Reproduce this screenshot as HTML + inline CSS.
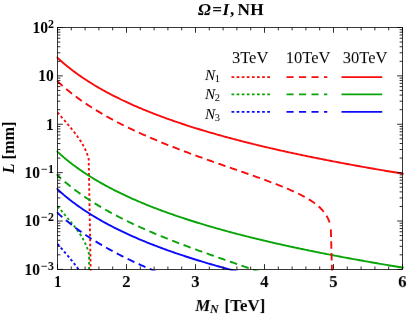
<!DOCTYPE html><html><head><meta charset="utf-8"><style>html,body{margin:0;padding:0;background:#fff}svg{display:block}.t{font-family:"Liberation Serif",serif;filter:grayscale(1)}.b{font-weight:bold}.i{font-style:italic}</style></head><body><svg width="407" height="315" viewBox="0 0 407 315">
<rect width="407" height="315" fill="#fff"/>
<defs><clipPath id="c"><rect x="56.50" y="27.50" width="347.20" height="243.10"/></clipPath></defs>
<g clip-path="url(#c)" fill="none" stroke-width="1.90">
<path d="M56.46 111.16 L56.81 111.57 L57.16 111.97 L57.50 112.37 L57.64 112.54 L57.78 112.70 L57.93 112.87 L58.07 113.03 L58.21 113.20 L58.35 113.36 L58.49 113.53 L58.63 113.69 L58.78 113.86 L58.92 114.02 L59.06 114.18 L59.20 114.35 L59.34 114.51 L59.48 114.68 L59.63 114.84 L59.77 115.01 L59.91 115.17 L60.05 115.33 L60.19 115.50 L60.34 115.66 L60.48 115.83 L60.62 115.99 L60.76 116.15 L60.90 116.32 L61.04 116.48 L61.19 116.65 L61.33 116.81 L61.47 116.97 L61.61 117.14 L61.75 117.30 L61.89 117.47 L62.04 117.63 L62.18 117.79 L62.32 117.96 L62.46 118.12 L62.60 118.29 L62.75 118.45 L62.89 118.61 L63.03 118.78 L63.17 118.94 L63.31 119.11 L63.45 119.27 L63.60 119.43 L63.74 119.60 L63.88 119.76 L64.02 119.93 L64.16 120.09 L64.30 120.25 L64.45 120.42 L64.59 120.58 L64.73 120.75 L64.87 120.91 L65.01 121.08 L65.16 121.24 L65.30 121.41 L65.44 121.57 L65.58 121.74 L65.72 121.90 L65.86 122.07 L66.01 122.23 L66.15 122.40 L66.29 122.56 L66.43 122.73 L66.57 122.90 L66.71 123.06 L66.86 123.23 L67.00 123.39 L67.14 123.56 L67.28 123.73 L67.42 123.89 L67.57 124.06 L67.71 124.23 L67.85 124.39 L67.99 124.56 L68.13 124.73 L68.27 124.90 L68.42 125.06 L68.56 125.23 L68.70 125.40 L68.84 125.57 L68.98 125.74 L69.12 125.91 L69.27 126.07 L69.41 126.24 L69.55 126.41 L69.69 126.58 L69.83 126.75 L69.98 126.92 L70.12 127.09 L70.26 127.26 L70.40 127.43 L70.54 127.61 L70.68 127.78 L70.83 127.95 L70.97 128.12 L71.11 128.29 L71.25 128.47 L71.39 128.64 L71.53 128.81 L71.68 128.99 L71.82 129.16 L71.96 129.33 L72.10 129.51 L72.24 129.68 L72.39 129.86 L72.53 130.03 L72.67 130.21 L72.81 130.39 L72.95 130.56 L73.09 130.74 L73.24 130.92 L73.38 131.10 L73.52 131.27 L73.66 131.45 L73.80 131.63 L73.94 131.81 L74.09 131.99 L74.23 132.17 L74.37 132.36 L74.51 132.54 L74.65 132.72 L74.80 132.90 L74.94 133.09 L75.08 133.27 L75.22 133.45 L75.36 133.64 L75.50 133.83 L75.65 134.01 L75.79 134.20 L75.93 134.39 L76.07 134.57 L76.21 134.76 L76.35 134.95 L76.50 135.14 L76.64 135.34 L76.78 135.53 L76.92 135.72 L77.06 135.91 L77.21 136.11 L77.35 136.30 L77.49 136.50 L77.63 136.69 L77.77 136.89 L77.91 137.09 L78.06 137.29 L78.20 137.49 L78.34 137.69 L78.48 137.89 L78.62 138.10 L78.76 138.30 L78.91 138.51 L79.05 138.71 L79.19 138.92 L79.33 139.13 L79.47 139.34 L79.62 139.55 L79.76 139.76 L79.90 139.97 L80.04 140.19 L80.18 140.41 L80.32 140.62 L80.47 140.84 L80.61 141.06 L80.75 141.28 L80.89 141.51 L81.03 141.73 L81.17 141.96 L81.32 142.19 L81.46 142.42 L81.60 142.65 L81.74 142.88 L81.88 143.12 L82.03 143.35 L82.17 143.59 L82.31 143.83 L82.45 144.08 L82.59 144.32 L82.73 144.57 L82.88 144.82 L83.02 145.07 L83.16 145.33 L83.30 145.59 L83.44 145.85 L83.58 146.11 L83.73 146.37 L83.87 146.64 L84.01 146.91 L84.15 147.19 L84.29 147.47 L84.44 147.75 L84.58 148.03 L84.72 148.32 L84.86 148.62 L85.00 148.91 L85.14 149.21 L85.29 149.52 L85.43 149.83 L85.57 150.14 L85.71 150.46 L85.85 150.79 L85.99 151.12 L86.14 151.45 L86.28 151.80 L86.42 152.14 L86.56 152.50 L86.70 152.86 L86.85 153.23 L86.99 153.61 L87.13 153.99 L87.27 154.39 L87.41 154.79 L87.55 155.20 L87.70 155.63 L87.84 156.06 L87.98 156.51 L88.12 156.97 L88.26 157.45 L88.40 157.94 L88.55 158.44 L88.69 158.96 L90.76 275.40" stroke="#f80c0c" stroke-dasharray="2.6 2.45" stroke-dashoffset="-1.59"/>
<path d="M56.46 80.35 L56.81 80.68 L57.16 81.01 L57.50 81.33 L58.74 82.48 L59.98 83.61 L61.23 84.72 L62.47 85.82 L63.71 86.89 L64.95 87.95 L66.20 88.99 L67.44 90.02 L68.68 91.03 L69.92 92.03 L71.16 93.01 L72.41 93.98 L73.65 94.93 L74.89 95.88 L76.13 96.80 L77.37 97.72 L78.62 98.62 L79.86 99.52 L81.10 100.40 L82.34 101.27 L83.59 102.12 L84.83 102.97 L86.07 103.81 L87.31 104.64 L88.55 105.46 L89.80 106.27 L91.04 107.07 L92.28 107.86 L93.52 108.64 L94.76 109.41 L96.01 110.18 L97.25 110.93 L98.49 111.68 L99.73 112.42 L100.98 113.16 L102.22 113.88 L103.46 114.60 L104.70 115.31 L105.94 116.02 L107.19 116.72 L108.43 117.41 L109.67 118.10 L110.91 118.77 L112.15 119.45 L113.40 120.11 L114.64 120.78 L115.88 121.43 L117.12 122.08 L118.37 122.73 L119.61 123.36 L120.85 124.00 L122.09 124.63 L123.33 125.25 L124.58 125.87 L125.82 126.48 L127.06 127.09 L128.30 127.69 L129.55 128.29 L130.79 128.89 L132.03 129.48 L133.27 130.07 L134.51 130.65 L135.76 131.23 L137.00 131.80 L138.24 132.37 L139.48 132.94 L140.72 133.50 L141.97 134.06 L143.21 134.61 L144.45 135.16 L145.69 135.71 L146.94 136.26 L148.18 136.80 L149.42 137.33 L150.66 137.87 L151.90 138.40 L153.15 138.93 L154.39 139.45 L155.63 139.97 L156.87 140.49 L158.11 141.01 L159.36 141.52 L160.60 142.03 L161.84 142.54 L163.08 143.05 L164.33 143.55 L165.57 144.05 L166.81 144.55 L168.05 145.04 L169.29 145.54 L170.54 146.03 L171.78 146.51 L173.02 147.00 L174.26 147.48 L175.50 147.97 L176.75 148.45 L177.99 148.92 L179.23 149.40 L180.47 149.87 L181.72 150.34 L182.96 150.81 L184.20 151.28 L185.44 151.75 L186.68 152.21 L187.93 152.67 L189.17 153.13 L190.41 153.59 L191.65 154.05 L192.90 154.51 L194.14 154.96 L195.38 155.42 L196.62 155.87 L197.86 156.32 L199.11 156.77 L200.35 157.22 L201.59 157.66 L202.83 158.11 L204.07 158.55 L205.32 159.00 L206.56 159.44 L207.80 159.88 L209.04 160.32 L210.29 160.76 L211.53 161.20 L212.77 161.64 L214.01 162.07 L215.25 162.51 L216.50 162.95 L217.74 163.38 L218.98 163.82 L220.22 164.25 L221.46 164.68 L222.71 165.12 L223.95 165.55 L225.19 165.98 L226.43 166.41 L227.68 166.84 L228.92 167.27 L230.16 167.71 L231.40 168.14 L232.64 168.57 L233.89 169.00 L235.13 169.43 L236.37 169.86 L237.61 170.29 L238.85 170.72 L240.10 171.15 L241.34 171.59 L242.58 172.02 L243.82 172.45 L245.07 172.89 L246.31 173.32 L247.55 173.75 L248.79 174.19 L250.03 174.63 L251.28 175.06 L252.52 175.50 L253.76 175.94 L255.00 176.38 L256.25 176.82 L257.49 177.27 L258.73 177.71 L259.97 178.16 L261.21 178.61 L262.46 179.06 L263.70 179.51 L264.94 179.96 L266.18 180.42 L267.42 180.88 L268.67 181.34 L269.91 181.80 L271.15 182.27 L272.39 182.74 L273.64 183.21 L274.88 183.69 L276.12 184.17 L277.36 184.65 L278.60 185.14 L279.85 185.63 L281.09 186.13 L282.33 186.63 L283.57 187.13 L284.81 187.64 L286.06 188.16 L287.30 188.68 L288.54 189.21 L289.78 189.75 L291.03 190.30 L292.27 190.85 L293.51 191.41 L294.75 191.98 L295.99 192.56 L297.24 193.15 L298.48 193.75 L299.72 194.36 L300.96 194.99 L302.20 195.63 L303.45 196.29 L304.69 196.96 L305.93 197.66 L307.17 198.37 L308.42 199.11 L309.66 199.87 L310.90 200.65 L312.14 201.47 L313.38 202.33 L314.63 203.22 L315.87 204.16 L317.11 205.15 L318.35 206.19 L319.60 207.31 L320.84 208.52 L322.08 209.82 L323.32 211.24 L324.56 212.83 L325.81 214.62 L327.05 216.68 L328.29 219.14 L329.53 222.22 L330.77 226.37" stroke="#f80c0c" stroke-dasharray="7.5 4.67" stroke-dashoffset="-0.82"/>
<path d="M56.46 56.90 L56.81 57.22 L57.16 57.54 L57.50 57.86 L59.07 59.30 L60.65 60.71 L62.22 62.08 L63.80 63.43 L65.37 64.75 L66.95 66.04 L68.52 67.30 L70.10 68.55 L71.67 69.76 L73.24 70.96 L74.82 72.13 L76.39 73.28 L77.97 74.42 L79.54 75.53 L81.12 76.62 L82.69 77.70 L84.27 78.75 L85.84 79.79 L87.41 80.82 L88.99 81.83 L90.56 82.82 L92.14 83.79 L93.71 84.76 L95.29 85.71 L96.86 86.64 L98.44 87.56 L100.01 88.47 L101.58 89.36 L103.16 90.25 L104.73 91.12 L106.31 91.98 L107.88 92.82 L109.46 93.66 L111.03 94.49 L112.61 95.30 L114.18 96.11 L115.75 96.91 L117.33 97.69 L118.90 98.47 L120.48 99.24 L122.05 99.99 L123.63 100.74 L125.20 101.48 L126.78 102.22 L128.35 102.94 L129.92 103.66 L131.50 104.37 L133.07 105.07 L134.65 105.76 L136.22 106.45 L137.80 107.13 L139.37 107.80 L140.95 108.46 L142.52 109.12 L144.09 109.77 L145.67 110.42 L147.24 111.06 L148.82 111.69 L150.39 112.32 L151.97 112.94 L153.54 113.55 L155.12 114.16 L156.69 114.77 L158.27 115.36 L159.84 115.96 L161.41 116.54 L162.99 117.12 L164.56 117.70 L166.14 118.27 L167.71 118.84 L169.29 119.40 L170.86 119.96 L172.44 120.51 L174.01 121.06 L175.58 121.60 L177.16 122.14 L178.73 122.68 L180.31 123.21 L181.88 123.73 L183.46 124.26 L185.03 124.77 L186.61 125.29 L188.18 125.80 L189.75 126.30 L191.33 126.81 L192.90 127.30 L194.48 127.80 L196.05 128.29 L197.63 128.78 L199.20 129.26 L200.78 129.74 L202.35 130.22 L203.92 130.69 L205.50 131.16 L207.07 131.63 L208.65 132.09 L210.22 132.55 L211.80 133.01 L213.37 133.46 L214.95 133.91 L216.52 134.36 L218.09 134.81 L219.67 135.25 L221.24 135.69 L222.82 136.13 L224.39 136.56 L225.97 136.99 L227.54 137.42 L229.12 137.84 L230.69 138.27 L232.26 138.69 L233.84 139.10 L235.41 139.52 L236.99 139.93 L238.56 140.34 L240.14 140.75 L241.71 141.15 L243.29 141.56 L244.86 141.96 L246.43 142.35 L248.01 142.75 L249.58 143.14 L251.16 143.53 L252.73 143.92 L254.31 144.31 L255.88 144.69 L257.46 145.08 L259.03 145.46 L260.60 145.83 L262.18 146.21 L263.75 146.58 L265.33 146.96 L266.90 147.33 L268.48 147.69 L270.05 148.06 L271.63 148.42 L273.20 148.79 L274.77 149.15 L276.35 149.50 L277.92 149.86 L279.50 150.22 L281.07 150.57 L282.65 150.92 L284.22 151.27 L285.80 151.62 L287.37 151.96 L288.94 152.31 L290.52 152.65 L292.09 152.99 L293.67 153.33 L295.24 153.67 L296.82 154.00 L298.39 154.34 L299.97 154.67 L301.54 155.00 L303.11 155.33 L304.69 155.66 L306.26 155.99 L307.84 156.31 L309.41 156.64 L310.99 156.96 L312.56 157.28 L314.14 157.60 L315.71 157.92 L317.28 158.23 L318.86 158.55 L320.43 158.86 L322.01 159.17 L323.58 159.49 L325.16 159.80 L326.73 160.10 L328.31 160.41 L329.88 160.72 L331.46 161.02 L333.03 161.32 L334.60 161.63 L336.18 161.93 L337.75 162.23 L339.33 162.53 L340.90 162.82 L342.48 163.12 L344.05 163.41 L345.63 163.71 L347.20 164.00 L348.77 164.29 L350.35 164.58 L351.92 164.87 L353.50 165.16 L355.07 165.44 L356.65 165.73 L358.22 166.01 L359.80 166.30 L361.37 166.58 L362.94 166.86 L364.52 167.14 L366.09 167.42 L367.67 167.70 L369.24 167.97 L370.82 168.25 L372.39 168.53 L373.97 168.80 L375.54 169.07 L377.11 169.35 L378.69 169.62 L380.26 169.89 L381.84 170.16 L383.41 170.42 L384.99 170.69 L386.56 170.96 L388.14 171.22 L389.71 171.49 L391.28 171.75 L392.86 172.01 L394.43 172.28 L396.01 172.54 L397.58 172.80 L399.16 173.06 L400.73 173.32 L402.31 173.57 L403.88 173.83" stroke="#f80c0c"/>
<path d="M56.46 205.12 L56.81 205.52 L57.16 205.92 L57.50 206.33 L57.64 206.49 L57.79 206.66 L57.93 206.83 L58.07 206.99 L58.22 207.16 L58.36 207.33 L58.51 207.50 L58.65 207.66 L58.79 207.83 L58.94 208.00 L59.08 208.16 L59.22 208.33 L59.37 208.50 L59.51 208.66 L59.65 208.83 L59.80 208.99 L59.94 209.16 L60.09 209.33 L60.23 209.49 L60.37 209.66 L60.52 209.83 L60.66 209.99 L60.80 210.16 L60.95 210.32 L61.09 210.49 L61.23 210.66 L61.38 210.82 L61.52 210.99 L61.67 211.16 L61.81 211.32 L61.95 211.49 L62.10 211.65 L62.24 211.82 L62.38 211.99 L62.53 212.15 L62.67 212.32 L62.81 212.48 L62.96 212.65 L63.10 212.82 L63.25 212.98 L63.39 213.15 L63.53 213.32 L63.68 213.48 L63.82 213.65 L63.96 213.81 L64.11 213.98 L64.25 214.15 L64.39 214.31 L64.54 214.48 L64.68 214.65 L64.83 214.81 L64.97 214.98 L65.11 215.15 L65.26 215.31 L65.40 215.48 L65.54 215.65 L65.69 215.82 L65.83 215.98 L65.98 216.15 L66.12 216.32 L66.26 216.49 L66.41 216.65 L66.55 216.82 L66.69 216.99 L66.84 217.16 L66.98 217.33 L67.12 217.50 L67.27 217.66 L67.41 217.83 L67.56 218.00 L67.70 218.17 L67.84 218.34 L67.99 218.51 L68.13 218.68 L68.27 218.85 L68.42 219.02 L68.56 219.19 L68.70 219.36 L68.85 219.53 L68.99 219.70 L69.14 219.87 L69.28 220.04 L69.42 220.22 L69.57 220.39 L69.71 220.56 L69.85 220.73 L70.00 220.90 L70.14 221.08 L70.28 221.25 L70.43 221.42 L70.57 221.60 L70.72 221.77 L70.86 221.94 L71.00 222.12 L71.15 222.29 L71.29 222.47 L71.43 222.64 L71.58 222.82 L71.72 222.99 L71.86 223.17 L72.01 223.35 L72.15 223.52 L72.30 223.70 L72.44 223.88 L72.58 224.06 L72.73 224.24 L72.87 224.41 L73.01 224.59 L73.16 224.77 L73.30 224.95 L73.44 225.13 L73.59 225.32 L73.73 225.50 L73.88 225.68 L74.02 225.86 L74.16 226.04 L74.31 226.23 L74.45 226.41 L74.59 226.60 L74.74 226.78 L74.88 226.97 L75.02 227.15 L75.17 227.34 L75.31 227.53 L75.46 227.72 L75.60 227.91 L75.74 228.09 L75.89 228.28 L76.03 228.48 L76.17 228.67 L76.32 228.86 L76.46 229.05 L76.60 229.24 L76.75 229.44 L76.89 229.63 L77.04 229.83 L77.18 230.03 L77.32 230.22 L77.47 230.42 L77.61 230.62 L77.75 230.82 L77.90 231.02 L78.04 231.22 L78.18 231.43 L78.33 231.63 L78.47 231.84 L78.62 232.04 L78.76 232.25 L78.90 232.46 L79.05 232.66 L79.19 232.87 L79.33 233.09 L79.48 233.30 L79.62 233.51 L79.77 233.73 L79.91 233.94 L80.05 234.16 L80.20 234.38 L80.34 234.60 L80.48 234.82 L80.63 235.05 L80.77 235.27 L80.91 235.50 L81.06 235.73 L81.20 235.96 L81.35 236.19 L81.49 236.42 L81.63 236.66 L81.78 236.89 L81.92 237.13 L82.06 237.37 L82.21 237.62 L82.35 237.86 L82.49 238.11 L82.64 238.36 L82.78 238.61 L82.93 238.86 L83.07 239.12 L83.21 239.38 L83.36 239.64 L83.50 239.91 L83.64 240.17 L83.79 240.44 L83.93 240.72 L84.07 240.99 L84.22 241.27 L84.36 241.56 L84.51 241.84 L84.65 242.14 L84.79 242.43 L84.94 242.73 L85.08 243.03 L85.22 243.34 L85.37 243.65 L85.51 243.97 L85.65 244.29 L85.80 244.62 L85.94 244.95 L86.09 245.29 L86.23 245.63 L86.37 245.98 L86.52 246.34 L86.66 246.70 L86.80 247.08 L86.95 247.46 L87.09 247.84 L87.23 248.24 L87.38 248.65 L87.52 249.06 L87.67 249.49 L87.81 249.93 L87.95 250.38 L88.10 250.85 L88.24 251.32 L88.38 251.82 L88.53 252.33 L88.67 252.85 L88.81 253.40 L88.96 253.97 L89.10 254.56 L89.10 275.40" stroke="#08a408" stroke-dasharray="2.6 2.45" stroke-dashoffset="-1.59"/>
<path d="M56.46 174.31 L56.81 174.63 L57.16 174.96 L57.50 175.28 L58.75 176.44 L60.01 177.59 L61.26 178.71 L62.52 179.81 L63.77 180.90 L65.03 181.97 L66.28 183.02 L67.54 184.06 L68.79 185.08 L70.05 186.08 L71.30 187.07 L72.55 188.05 L73.81 189.01 L75.06 189.96 L76.32 190.90 L77.57 191.82 L78.83 192.73 L80.08 193.63 L81.34 194.52 L82.59 195.39 L83.85 196.26 L85.10 197.11 L86.35 197.96 L87.61 198.79 L88.86 199.61 L90.12 200.43 L91.37 201.23 L92.63 202.03 L93.88 202.82 L95.14 203.60 L96.39 204.37 L97.65 205.13 L98.90 205.88 L100.15 206.63 L101.41 207.37 L102.66 208.10 L103.92 208.82 L105.17 209.54 L106.43 210.25 L107.68 210.95 L108.94 211.65 L110.19 212.34 L111.45 213.02 L112.70 213.70 L113.95 214.37 L115.21 215.03 L116.46 215.69 L117.72 216.34 L118.97 216.99 L120.23 217.64 L121.48 218.27 L122.74 218.90 L123.99 219.53 L125.25 220.15 L126.50 220.77 L127.75 221.38 L129.01 221.99 L130.26 222.59 L131.52 223.19 L132.77 223.79 L134.03 224.37 L135.28 224.96 L136.54 225.54 L137.79 226.12 L139.05 226.69 L140.30 227.26 L141.55 227.83 L142.81 228.39 L144.06 228.95 L145.32 229.50 L146.57 230.05 L147.83 230.60 L149.08 231.14 L150.34 231.68 L151.59 232.22 L152.85 232.75 L154.10 233.29 L155.35 233.81 L156.61 234.34 L157.86 234.86 L159.12 235.38 L160.37 235.90 L161.63 236.41 L162.88 236.92 L164.14 237.43 L165.39 237.93 L166.65 238.44 L167.90 238.94 L169.15 239.44 L170.41 239.93 L171.66 240.42 L172.92 240.91 L174.17 241.40 L175.43 241.89 L176.68 242.37 L177.94 242.86 L179.19 243.34 L180.45 243.82 L181.70 244.29 L182.95 244.77 L184.21 245.24 L185.46 245.71 L186.72 246.18 L187.97 246.65 L189.23 247.11 L190.48 247.57 L191.74 248.04 L192.99 248.50 L194.25 248.96 L195.50 249.41 L196.75 249.87 L198.01 250.33 L199.26 250.78 L200.52 251.23 L201.77 251.68 L203.03 252.13 L204.28 252.58 L205.54 253.03 L206.79 253.48 L208.05 253.92 L209.30 254.37 L210.55 254.81 L211.81 255.25 L213.06 255.70 L214.32 256.14 L215.57 256.58 L216.83 257.02 L218.08 257.46 L219.34 257.89 L220.59 258.33 L221.85 258.77 L223.10 259.21 L224.35 259.64 L225.61 260.08 L226.86 260.52 L228.12 260.95 L229.37 261.39 L230.63 261.82 L231.88 262.26 L233.14 262.69 L234.39 263.13 L235.65 263.56 L236.90 264.00 L238.15 264.43 L239.41 264.87 L240.66 265.31 L241.92 265.74 L243.17 266.18 L244.43 266.62 L245.68 267.05 L246.94 267.49 L248.19 267.93 L249.45 268.37 L250.70 268.81 L251.95 269.26 L253.21 269.70 L254.46 270.14 L255.72 270.59 L256.97 271.04 L258.23 271.49 L259.48 271.94 L260.74 272.39 L261.99 272.84 L263.25 273.30 L264.50 273.76 L265.75 274.22 L267.01 274.68 L268.26 275.14 L269.52 275.61" stroke="#08a408" stroke-dasharray="7.55 4.75" stroke-dashoffset="1.18"/>
<path d="M56.46 150.85 L56.81 151.18 L57.16 151.50 L57.50 151.82 L59.07 153.25 L60.65 154.66 L62.22 156.04 L63.80 157.38 L65.37 158.70 L66.95 159.99 L68.52 161.26 L70.10 162.50 L71.67 163.72 L73.24 164.91 L74.82 166.09 L76.39 167.24 L77.97 168.37 L79.54 169.48 L81.12 170.58 L82.69 171.65 L84.27 172.71 L85.84 173.75 L87.41 174.77 L88.99 175.78 L90.56 176.77 L92.14 177.75 L93.71 178.71 L95.29 179.66 L96.86 180.59 L98.44 181.51 L100.01 182.42 L101.58 183.32 L103.16 184.20 L104.73 185.07 L106.31 185.93 L107.88 186.78 L109.46 187.62 L111.03 188.44 L112.61 189.26 L114.18 190.06 L115.75 190.86 L117.33 191.65 L118.90 192.42 L120.48 193.19 L122.05 193.95 L123.63 194.70 L125.20 195.44 L126.78 196.17 L128.35 196.90 L129.92 197.61 L131.50 198.32 L133.07 199.02 L134.65 199.72 L136.22 200.40 L137.80 201.08 L139.37 201.75 L140.95 202.42 L142.52 203.08 L144.09 203.73 L145.67 204.37 L147.24 205.01 L148.82 205.64 L150.39 206.27 L151.97 206.89 L153.54 207.51 L155.12 208.12 L156.69 208.72 L158.27 209.32 L159.84 209.91 L161.41 210.50 L162.99 211.08 L164.56 211.66 L166.14 212.23 L167.71 212.79 L169.29 213.36 L170.86 213.91 L172.44 214.47 L174.01 215.01 L175.58 215.56 L177.16 216.10 L178.73 216.63 L180.31 217.16 L181.88 217.69 L183.46 218.21 L185.03 218.73 L186.61 219.24 L188.18 219.75 L189.75 220.26 L191.33 220.76 L192.90 221.26 L194.48 221.75 L196.05 222.24 L197.63 222.73 L199.20 223.21 L200.78 223.70 L202.35 224.17 L203.92 224.65 L205.50 225.12 L207.07 225.58 L208.65 226.05 L210.22 226.51 L211.80 226.96 L213.37 227.42 L214.95 227.87 L216.52 228.32 L218.09 228.76 L219.67 229.20 L221.24 229.64 L222.82 230.08 L224.39 230.51 L225.97 230.94 L227.54 231.37 L229.12 231.80 L230.69 232.22 L232.26 232.64 L233.84 233.06 L235.41 233.47 L236.99 233.89 L238.56 234.30 L240.14 234.70 L241.71 235.11 L243.29 235.51 L244.86 235.91 L246.43 236.31 L248.01 236.70 L249.58 237.10 L251.16 237.49 L252.73 237.88 L254.31 238.26 L255.88 238.65 L257.46 239.03 L259.03 239.41 L260.60 239.79 L262.18 240.16 L263.75 240.54 L265.33 240.91 L266.90 241.28 L268.48 241.65 L270.05 242.01 L271.63 242.38 L273.20 242.74 L274.77 243.10 L276.35 243.46 L277.92 243.82 L279.50 244.17 L281.07 244.52 L282.65 244.87 L284.22 245.22 L285.80 245.57 L287.37 245.92 L288.94 246.26 L290.52 246.60 L292.09 246.95 L293.67 247.29 L295.24 247.62 L296.82 247.96 L298.39 248.29 L299.97 248.63 L301.54 248.96 L303.11 249.29 L304.69 249.62 L306.26 249.94 L307.84 250.27 L309.41 250.59 L310.99 250.91 L312.56 251.23 L314.14 251.55 L315.71 251.87 L317.28 252.19 L318.86 252.50 L320.43 252.82 L322.01 253.13 L323.58 253.44 L325.16 253.75 L326.73 254.06 L328.31 254.37 L329.88 254.67 L331.46 254.98 L333.03 255.28 L334.60 255.58 L336.18 255.88 L337.75 256.18 L339.33 256.48 L340.90 256.78 L342.48 257.07 L344.05 257.37 L345.63 257.66 L347.20 257.95 L348.77 258.24 L350.35 258.53 L351.92 258.82 L353.50 259.11 L355.07 259.40 L356.65 259.68 L358.22 259.97 L359.80 260.25 L361.37 260.53 L362.94 260.81 L364.52 261.09 L366.09 261.37 L367.67 261.65 L369.24 261.93 L370.82 262.21 L372.39 262.48 L373.97 262.75 L375.54 263.03 L377.11 263.30 L378.69 263.57 L380.26 263.84 L381.84 264.11 L383.41 264.38 L384.99 264.65 L386.56 264.91 L388.14 265.18 L389.71 265.44 L391.28 265.71 L392.86 265.97 L394.43 266.23 L396.01 266.49 L397.58 266.75 L399.16 267.01 L400.73 267.27 L402.31 267.53 L403.88 267.78" stroke="#08a408"/>
<path d="M56.46 242.62 L56.81 243.03 L57.16 243.43 L57.50 243.83 L57.66 244.02 L57.81 244.20 L57.97 244.38 L58.13 244.56 L58.28 244.75 L58.44 244.93 L58.60 245.11 L58.75 245.29 L58.91 245.47 L59.07 245.66 L59.22 245.84 L59.38 246.02 L59.54 246.20 L59.70 246.38 L59.85 246.56 L60.01 246.75 L60.17 246.93 L60.32 247.11 L60.48 247.29 L60.64 247.47 L60.79 247.65 L60.95 247.83 L61.11 248.02 L61.26 248.20 L61.42 248.38 L61.58 248.56 L61.73 248.74 L61.89 248.92 L62.05 249.10 L62.20 249.29 L62.36 249.47 L62.52 249.65 L62.67 249.83 L62.83 250.01 L62.99 250.19 L63.15 250.37 L63.30 250.56 L63.46 250.74 L63.62 250.92 L63.77 251.10 L63.93 251.28 L64.09 251.46 L64.24 251.65 L64.40 251.83 L64.56 252.01 L64.71 252.19 L64.87 252.37 L65.03 252.56 L65.18 252.74 L65.34 252.92 L65.50 253.10 L65.65 253.29 L65.81 253.47 L65.97 253.65 L66.12 253.83 L66.28 254.02 L66.44 254.20 L66.60 254.38 L66.75 254.57 L66.91 254.75 L67.07 254.93 L67.22 255.12 L67.38 255.30 L67.54 255.49 L67.69 255.67 L67.85 255.86 L68.01 256.04 L68.16 256.23 L68.32 256.41 L68.48 256.60 L68.63 256.78 L68.79 256.97 L68.95 257.16 L69.10 257.34 L69.26 257.53 L69.42 257.72 L69.57 257.90 L69.73 258.09 L69.89 258.28 L70.05 258.47 L70.20 258.66 L70.36 258.85 L70.52 259.04 L70.67 259.22 L70.83 259.41 L70.99 259.61 L71.14 259.80 L71.30 259.99 L71.46 260.18 L71.61 260.37 L71.77 260.56 L71.93 260.75 L72.08 260.95 L72.24 261.14 L72.40 261.34 L72.55 261.53 L72.71 261.72 L72.87 261.92 L73.02 262.12 L73.18 262.31 L73.34 262.51 L73.50 262.71 L73.65 262.90 L73.81 263.10 L73.97 263.30 L74.12 263.50 L74.28 263.70 L74.44 263.90 L74.59 264.10 L74.75 264.31 L74.91 264.51 L75.06 264.71 L75.22 264.92 L75.38 265.12 L75.53 265.33 L75.69 265.53 L75.85 265.74 L76.00 265.95 L76.16 266.16 L76.32 266.37 L76.47 266.58 L76.63 266.79 L76.79 267.00 L76.95 267.21 L77.10 267.43 L77.26 267.64 L77.42 267.86 L77.57 268.08 L77.73 268.29 L77.89 268.51 L78.04 268.73 L78.20 268.96 L78.36 269.18 L78.51 269.40 L78.67 269.63 L78.83 269.85 L78.98 270.08 L79.14 270.31 L79.30 270.54 L79.45 270.77 L79.61 271.00 L79.77 271.24 L79.92 271.48 L80.08 271.71 L80.24 271.95 L80.40 272.19 L80.55 272.44 L80.71 272.68 L80.87 272.93 L81.02 273.18 L81.18 273.43 L81.34 273.68 L81.49 273.93 L81.65 274.19 L81.81 274.45 L81.96 274.71 L82.12 274.98 L82.28 275.24 L82.43 275.51" stroke="#0c0cf8" stroke-dasharray="2.6 2.45" stroke-dashoffset="-1.59"/>
<path d="M56.46 211.82 L56.81 212.14 L57.16 212.47 L57.50 212.79 L58.75 213.95 L60.01 215.09 L61.26 216.22 L62.52 217.32 L63.77 218.41 L65.03 219.48 L66.28 220.53 L67.54 221.56 L68.79 222.58 L70.05 223.59 L71.30 224.58 L72.55 225.56 L73.81 226.52 L75.06 227.47 L76.32 228.40 L77.57 229.33 L78.83 230.24 L80.08 231.14 L81.34 232.02 L82.59 232.90 L83.85 233.76 L85.10 234.62 L86.35 235.46 L87.61 236.30 L88.86 237.12 L90.12 237.94 L91.37 238.74 L92.63 239.54 L93.88 240.32 L95.14 241.10 L96.39 241.87 L97.65 242.63 L98.90 243.39 L100.15 244.13 L101.41 244.87 L102.66 245.60 L103.92 246.33 L105.17 247.04 L106.43 247.75 L107.68 248.46 L108.94 249.15 L110.19 249.84 L111.45 250.53 L112.70 251.20 L113.95 251.87 L115.21 252.54 L116.46 253.20 L117.72 253.85 L118.97 254.50 L120.23 255.14 L121.48 255.78 L122.74 256.41 L123.99 257.04 L125.25 257.66 L126.50 258.28 L127.75 258.89 L129.01 259.50 L130.26 260.10 L131.52 260.70 L132.77 261.29 L134.03 261.88 L135.28 262.47 L136.54 263.05 L137.79 263.63 L139.05 264.20 L140.30 264.77 L141.55 265.33 L142.81 265.90 L144.06 266.45 L145.32 267.01 L146.57 267.56 L147.83 268.11 L149.08 268.65 L150.34 269.19 L151.59 269.73 L152.85 270.26 L154.10 270.79 L155.35 271.32 L156.61 271.85 L157.86 272.37 L159.12 272.89 L160.37 273.40 L161.63 273.92 L162.88 274.43 L164.14 274.94 L165.39 275.44" stroke="#0c0cf8" stroke-dasharray="7.5 4.67" stroke-dashoffset="-0.42"/>
<path d="M56.46 188.36 L56.81 188.68 L57.16 189.01 L57.50 189.32 L59.07 190.76 L60.65 192.17 L62.22 193.54 L63.80 194.89 L65.37 196.21 L66.95 197.50 L68.52 198.77 L70.10 200.01 L71.67 201.23 L73.24 202.42 L74.82 203.59 L76.39 204.75 L77.97 205.88 L79.54 206.99 L81.12 208.08 L82.69 209.16 L84.27 210.22 L85.84 211.26 L87.41 212.28 L88.99 213.29 L90.56 214.28 L92.14 215.26 L93.71 216.22 L95.29 217.17 L96.86 218.10 L98.44 219.02 L100.01 219.93 L101.58 220.82 L103.16 221.71 L104.73 222.58 L106.31 223.44 L107.88 224.29 L109.46 225.12 L111.03 225.95 L112.61 226.77 L114.18 227.57 L115.75 228.37 L117.33 229.15 L118.90 229.93 L120.48 230.70 L122.05 231.46 L123.63 232.21 L125.20 232.95 L126.78 233.68 L128.35 234.40 L129.92 235.12 L131.50 235.83 L133.07 236.53 L134.65 237.22 L136.22 237.91 L137.80 238.59 L139.37 239.26 L140.95 239.93 L142.52 240.58 L144.09 241.24 L145.67 241.88 L147.24 242.52 L148.82 243.15 L150.39 243.78 L151.97 244.40 L153.54 245.01 L155.12 245.62 L156.69 246.23 L158.27 246.82 L159.84 247.42 L161.41 248.00 L162.99 248.59 L164.56 249.16 L166.14 249.74 L167.71 250.30 L169.29 250.86 L170.86 251.42 L172.44 251.97 L174.01 252.52 L175.58 253.07 L177.16 253.60 L178.73 254.14 L180.31 254.67 L181.88 255.20 L183.46 255.72 L185.03 256.24 L186.61 256.75 L188.18 257.26 L189.75 257.77 L191.33 258.27 L192.90 258.77 L194.48 259.26 L196.05 259.75 L197.63 260.24 L199.20 260.72 L200.78 261.20 L202.35 261.68 L203.92 262.15 L205.50 262.62 L207.07 263.09 L208.65 263.55 L210.22 264.01 L211.80 264.47 L213.37 264.93 L214.95 265.38 L216.52 265.82 L218.09 266.27 L219.67 266.71 L221.24 267.15 L222.82 267.59 L224.39 268.02 L225.97 268.45 L227.54 268.88 L229.12 269.31 L230.69 269.73 L232.26 270.15 L233.84 270.57 L235.41 270.98 L236.99 271.39 L238.56 271.80 L240.14 272.21 L241.71 272.61 L243.29 273.02 L244.86 273.42 L246.43 273.82 L248.01 274.21 L249.58 274.60 L251.16 275.00 L252.73 275.38 L254.31 275.77" stroke="#0c0cf8"/>
<path d="M330.77 226.37 L332.12 275.40" stroke="#f80c0c" stroke-dasharray="7.6 4.2" stroke-dashoffset="8.77"/>
</g>
<path d="M57.50 269.40 v-5.30 M57.50 27.50 v5.30 M71.30 269.40 v-2.90 M71.30 27.50 v2.90 M85.10 269.40 v-2.90 M85.10 27.50 v2.90 M98.90 269.40 v-2.90 M98.90 27.50 v2.90 M112.70 269.40 v-2.90 M112.70 27.50 v2.90 M126.50 269.40 v-5.30 M126.50 27.50 v5.30 M140.30 269.40 v-2.90 M140.30 27.50 v2.90 M154.10 269.40 v-2.90 M154.10 27.50 v2.90 M167.90 269.40 v-2.90 M167.90 27.50 v2.90 M181.70 269.40 v-2.90 M181.70 27.50 v2.90 M195.50 269.40 v-5.30 M195.50 27.50 v5.30 M209.30 269.40 v-2.90 M209.30 27.50 v2.90 M223.10 269.40 v-2.90 M223.10 27.50 v2.90 M236.90 269.40 v-2.90 M236.90 27.50 v2.90 M250.70 269.40 v-2.90 M250.70 27.50 v2.90 M264.50 269.40 v-5.30 M264.50 27.50 v5.30 M278.30 269.40 v-2.90 M278.30 27.50 v2.90 M292.10 269.40 v-2.90 M292.10 27.50 v2.90 M305.90 269.40 v-2.90 M305.90 27.50 v2.90 M319.70 269.40 v-2.90 M319.70 27.50 v2.90 M333.50 269.40 v-5.30 M333.50 27.50 v5.30 M347.30 269.40 v-2.90 M347.30 27.50 v2.90 M361.10 269.40 v-2.90 M361.10 27.50 v2.90 M374.90 269.40 v-2.90 M374.90 27.50 v2.90 M388.70 269.40 v-2.90 M388.70 27.50 v2.90 M402.50 269.40 v-5.30 M402.50 27.50 v5.30 M57.50 269.40 h5.30 M402.50 269.40 h-5.30 M57.50 254.84 h2.90 M402.50 254.84 h-2.90 M57.50 246.32 h2.90 M402.50 246.32 h-2.90 M57.50 240.27 h2.90 M402.50 240.27 h-2.90 M57.50 235.58 h2.90 M402.50 235.58 h-2.90 M57.50 231.75 h2.90 M402.50 231.75 h-2.90 M57.50 228.51 h2.90 M402.50 228.51 h-2.90 M57.50 225.71 h2.90 M402.50 225.71 h-2.90 M57.50 223.23 h2.90 M402.50 223.23 h-2.90 M57.50 221.02 h5.30 M402.50 221.02 h-5.30 M57.50 206.46 h2.90 M402.50 206.46 h-2.90 M57.50 197.94 h2.90 M402.50 197.94 h-2.90 M57.50 191.89 h2.90 M402.50 191.89 h-2.90 M57.50 187.20 h2.90 M402.50 187.20 h-2.90 M57.50 183.37 h2.90 M402.50 183.37 h-2.90 M57.50 180.13 h2.90 M402.50 180.13 h-2.90 M57.50 177.33 h2.90 M402.50 177.33 h-2.90 M57.50 174.85 h2.90 M402.50 174.85 h-2.90 M57.50 172.64 h5.30 M402.50 172.64 h-5.30 M57.50 158.08 h2.90 M402.50 158.08 h-2.90 M57.50 149.56 h2.90 M402.50 149.56 h-2.90 M57.50 143.51 h2.90 M402.50 143.51 h-2.90 M57.50 138.82 h2.90 M402.50 138.82 h-2.90 M57.50 134.99 h2.90 M402.50 134.99 h-2.90 M57.50 131.75 h2.90 M402.50 131.75 h-2.90 M57.50 128.95 h2.90 M402.50 128.95 h-2.90 M57.50 126.47 h2.90 M402.50 126.47 h-2.90 M57.50 124.26 h5.30 M402.50 124.26 h-5.30 M57.50 109.70 h2.90 M402.50 109.70 h-2.90 M57.50 101.18 h2.90 M402.50 101.18 h-2.90 M57.50 95.13 h2.90 M402.50 95.13 h-2.90 M57.50 90.44 h2.90 M402.50 90.44 h-2.90 M57.50 86.61 h2.90 M402.50 86.61 h-2.90 M57.50 83.37 h2.90 M402.50 83.37 h-2.90 M57.50 80.57 h2.90 M402.50 80.57 h-2.90 M57.50 78.09 h2.90 M402.50 78.09 h-2.90 M57.50 75.88 h5.30 M402.50 75.88 h-5.30 M57.50 61.32 h2.90 M402.50 61.32 h-2.90 M57.50 52.80 h2.90 M402.50 52.80 h-2.90 M57.50 46.75 h2.90 M402.50 46.75 h-2.90 M57.50 42.06 h2.90 M402.50 42.06 h-2.90 M57.50 38.23 h2.90 M402.50 38.23 h-2.90 M57.50 34.99 h2.90 M402.50 34.99 h-2.90 M57.50 32.19 h2.90 M402.50 32.19 h-2.90 M57.50 29.71 h2.90 M402.50 29.71 h-2.90 M57.50 27.50 h5.30 M402.50 27.50 h-5.30" stroke="#000" stroke-width="0.82" fill="none"/>
<rect x="57.50" y="27.50" width="345.00" height="241.90" fill="none" stroke="#000" stroke-width="0.78"/>
<g class="t" transform="rotate(0.02)" fill="#000">
<g class="b" font-size="16.8">
<text transform="translate(57.80 286.8) scale(0.85 1)" text-anchor="middle">1</text>
<text transform="translate(126.50 286.8) scale(1.00 1)" text-anchor="middle">2</text>
<text transform="translate(195.50 286.8) scale(1.00 1)" text-anchor="middle">3</text>
<text transform="translate(264.50 286.8) scale(1.00 1)" text-anchor="middle">4</text>
<text transform="translate(333.50 286.8) scale(1.00 1)" text-anchor="middle">5</text>
<text transform="translate(402.50 286.8) scale(1.00 1)" text-anchor="middle">6</text>
<text transform="translate(48.00 32.95) scale(0.93 1)" text-anchor="end">10</text>
<text x="47.90" y="27.95" font-size="12">2</text>
<text transform="translate(53.80 81.33) scale(0.93 1)" text-anchor="end">10</text>
<text transform="translate(53.80 129.71) scale(0.93 1)" text-anchor="end">1</text>
<text transform="translate(40.00 178.09) scale(0.93 1)" text-anchor="end">10</text>
<text x="41.10" y="173.09" font-size="12">−1</text>
<text transform="translate(40.00 226.47) scale(0.93 1)" text-anchor="end">10</text>
<text x="41.10" y="221.47" font-size="12">−2</text>
<text transform="translate(40.00 274.85) scale(0.93 1)" text-anchor="end">10</text>
<text x="41.10" y="269.85" font-size="12">−3</text>
</g>
<g class="b" font-size="17.3">
<text x="198.0" y="14.7" class="i">Ω</text><text x="212.2" y="14.7">=</text><text x="222.6" y="14.7" class="i">I</text><text x="230.0" y="14.7">,</text><text x="237.4" y="14.7">N</text><text x="250.3" y="14.7">H</text>
</g>
<g class="b" font-size="17"><text x="195.3" y="310.5" class="i">M</text><text x="210.0" y="313.1" class="i" font-size="12">N</text><text x="224.6" y="310.5">[TeV]</text></g>
<text transform="translate(14.3 147.5) rotate(-90)" text-anchor="middle" class="b" font-size="16.3"><tspan class="i">L</tspan> [mm]</text>
<g font-size="16.5">
<text x="231.9" y="63.3">3TeV</text><text x="285.8" y="63.3">10TeV</text><text x="342.8" y="63.3">30TeV</text>
</g>
<text transform="translate(205.0 79.60) scale(1.13 1)" class="i" font-size="13.6">N</text>
<text x="214.8" y="81.80" font-size="10.5">1</text>
<text transform="translate(205.0 98.50) scale(1.13 1)" class="i" font-size="13.6">N</text>
<text x="214.8" y="100.70" font-size="10.5">2</text>
<text transform="translate(205.0 118.80) scale(1.13 1)" class="i" font-size="13.6">N</text>
<text x="214.8" y="121.00" font-size="10.5">3</text>
</g>
<path d="M231.5 77.05 H270.4" stroke="#f80c0c" stroke-width="1.8" stroke-dasharray="2.75 2.35" fill="none"/>
<path d="M286.5 77.05 H327.3" stroke="#f80c0c" stroke-width="1.8" stroke-dasharray="7.1 5.4" fill="none"/>
<path d="M341.5 77.05 H382.2" stroke="#f80c0c" stroke-width="1.8" fill="none"/>
<path d="M231.5 94.45 H270.4" stroke="#08a408" stroke-width="1.8" stroke-dasharray="2.75 2.35" fill="none"/>
<path d="M286.5 94.45 H327.3" stroke="#08a408" stroke-width="1.8" stroke-dasharray="7.1 5.4" fill="none"/>
<path d="M341.5 94.45 H382.2" stroke="#08a408" stroke-width="1.8" fill="none"/>
<path d="M231.5 111.90 H270.4" stroke="#0c0cf8" stroke-width="1.8" stroke-dasharray="2.75 2.35" fill="none"/>
<path d="M286.5 111.90 H327.3" stroke="#0c0cf8" stroke-width="1.8" stroke-dasharray="7.1 5.4" fill="none"/>
<path d="M341.5 111.90 H382.2" stroke="#0c0cf8" stroke-width="1.8" fill="none"/>
</svg></body></html>
